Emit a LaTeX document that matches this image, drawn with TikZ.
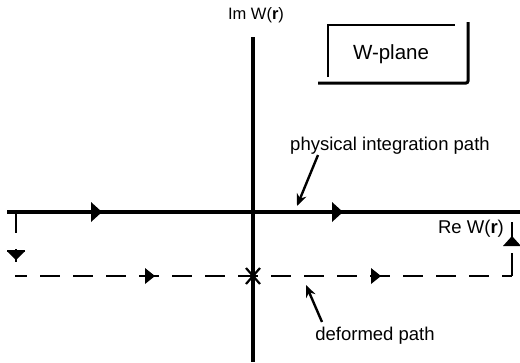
\documentclass[tikz,border=0pt]{standalone}
\usepackage{fontspec}
\setmainfont{Liberation Sans}
\usetikzlibrary{arrows.meta}
\begin{document}
\begin{tikzpicture}[x=1pt,y=-1pt,
  lbl/.style={font=\fontsize{18.5}{20}\selectfont, inner sep=0pt, anchor=base},
  axis/.style={line width=3.2pt},
  dpath/.style={line width=1.8pt, dash pattern=on 20pt off 13pt, dash phase=8pt},
  thinl/.style={line width=1.5pt},
  ptr/.style={line width=2.4pt, -{Stealth[length=12pt,width=10pt]}},
  tri/.style={fill=black}]
\useasboundingbox (0,0) rectangle (520,362);
% axes
\coordinate (hl) at (7,212);
\coordinate (hr) at (520,212);
\coordinate (vt) at (253,37);
\coordinate (vb) at (253,362);
\draw[axis] (hl) -- (hr);
\draw[axis] (vt) -- (vb);
% arrowheads on real axis
\fill[tri] (91,202) -- (102,212) -- (91,222) -- cycle;
\fill[tri] (332,202) -- (343,212) -- (332,222) -- cycle;
% deformed path
\coordinate (dl) at (15,276);
\coordinate (dr) at (512,276);
\draw[dpath] (dl) -- (dr);
\fill[tri] (145,268) -- (155,276) -- (145,284) -- cycle;
\fill[tri] (371,268) -- (381,276) -- (371,284) -- cycle;
% singular point
\coordinate (sp) at (253,276);
\draw[line width=2.2pt] ([shift={(-7,-8)}]sp) -- ([shift={(7,8)}]sp)
                        ([shift={(-7,8)}]sp) -- ([shift={(7,-8)}]sp);
% left vertical connection
\draw[thinl] (16,212) -- (16,233);
\draw[thinl] (16,249) -- (16,262);
\fill[tri] (7,251) -- (25,251) -- (16,260) -- cycle;
\draw[line width=1.8pt] (7,251) -- (25,251);
% right vertical connection
\draw[thinl] (512,222) -- (512,246);
\fill[tri] (503,246) -- (521,246) -- (512,236) -- cycle;
\draw[thinl] (512,253) -- (512,276);
% W-plane box
\draw[line width=1.6pt] (328,77) -- (328,25) -- (455,25);
\draw[line width=3pt, rounded corners=2pt] (318,83) -- (468,83) -- (468,22);
\node[lbl, font=\fontsize{20.5}{22}\selectfont] (wp) at (391,59) {W-plane};
% labels
\node[lbl, font=\fontsize{16.5}{18}\selectfont] (im) at (256,19) {Im W(\textbf{r})};
\node[lbl] (re) at (471,233) {Re W(\textbf{r})};
\node[lbl] (phys) at (390,150) {physical integration path};
\node[lbl] (def) at (375,340) {deformed path};
% pointers
\coordinate (pa) at (318,155);
\coordinate (pb) at (297,206);
\coordinate (da) at (322,322);
\coordinate (db) at (306,285);
\draw[ptr] (pa) -- (pb);
\draw[ptr] (da) -- (db);
\end{tikzpicture}
\end{document}
